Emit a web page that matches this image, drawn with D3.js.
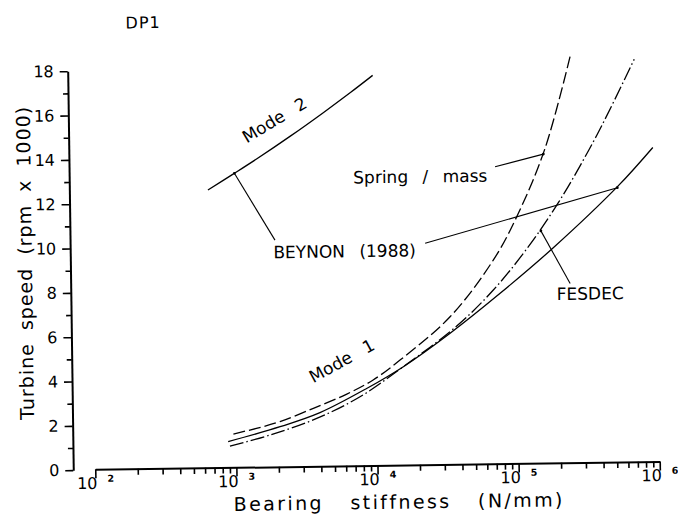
<!DOCTYPE html>
<html>
<head>
<meta charset="utf-8">
<script src="https://cdn.jsdelivr.net/npm/d3@7"></script>
<style>
  html, body { margin: 0; padding: 0; background: #fff; }
  svg { display: block; font-family: 'DejaVu Sans', sans-serif; }
</style>
</head>
<body>
<script>
// bearing stiffness (N/mm) vs turbine speed (rpm x 1000)
const mode2K = [670, 1000, 1500, 2600, 4500, 7000, 10100]
const mode2V = [12.55, 13.23, 13.93, 14.93, 15.98, 16.86, 17.62]

const springK = [960, 1400, 2060, 3560, 6160, 9500, 14800, 33800, 69300, 102600, 165000, 254000]
const springV = [1.53, 1.77, 2.06, 2.64, 3.26, 3.88, 4.76, 6.68, 9.21, 11.15, 14.2, 18.34]

const beynonK = [880, 2060, 3960, 8530, 15600, 33700, 76900, 185000, 543000, 960000]
const beynonV = [1.19, 1.83, 2.44, 3.5, 4.46, 5.94, 7.71, 9.73, 12.49, 14.19]

const fesdecK = [905, 1746, 3750, 7640, 15600, 37600, 68900, 116700, 203000, 386000, 723000]
const fesdecV = [0.99, 1.46, 2.18, 3.13, 4.46, 6.26, 7.86, 9.6, 11.76, 14.78, 18.18]

const yTicks = d3.range(0, 19)
const decades = [2, 3, 4, 5, 6]

// callout leaders, curve end first: [k1, v1, k2, v2]
const leaders = [
  [1035, 13.29, 1977, 10.25],
  [533000, 12.4, 22900, 10.01],
  [160700, 13.96, 72900, 13.42],
  [151700, 10.5, 241600, 8.11]
]
// labels: text, k, v, angle
const labels = [
  ['Mode 2', 1275, 14.63, -30],
  ['Mode 1', 3570, 3.77, -28],
  ['Spring / mass', 7190, 12.76, 0],
  ['BEYNON (1988)', 1919, 9.43, 0],
  ['FESDEC', 193600, 7.37, 0]
]

const width = 678
const height = 517

const svg = d3.select('body').append('svg')
  .attr('width', width)
  .attr('height', height)

// the scan is tilted slightly
const g = svg.append('g')
  .attr('transform', 'rotate(-0.8, 370, 270)')

const x = d3.scaleLog().domain([1e2, 1e6]).range([92.5, 657])
const y = d3.scaleLinear().domain([0, 18]).range([466, 67])

// y axis
const yAxis = g.append('g')
  .attr('transform', 'translate(70.5,0)')
  .call(d3.axisLeft(y)
    .tickValues(yTicks)
    .tickSizeOuter(0)
    .tickFormat(d => d % 2 === 0 ? d : ''))
yAxis.select('.domain').attr('stroke-width', 2)
yAxis.selectAll('.tick line')
  .attr('stroke-width', 1.6)
  .attr('x2', d => d % 2 === 0 ? -8 : -5)
yAxis.selectAll('.tick text')
  .attr('x', -14)
  .attr('font-size', 16)
  .attr('font-family', 'DejaVu Sans')
  .attr('fill', '#000')

// x axis
const xTicks = []
decades.forEach(p => {
  for (let m = 1; m <= 9; m++) {
    if (p === 6 && m > 1) break
    xTicks.push(m * Math.pow(10, p))
  }
})
const xAxis = g.append('g')
  .attr('transform', 'translate(0,465.5)')
  .call(d3.axisBottom(x)
    .tickValues(xTicks)
    .tickSizeOuter(0)
    .tickFormat(''))
xAxis.select('.domain').attr('stroke-width', 2)
xAxis.selectAll('.tick line')
  .attr('stroke-width', 1.6)
  .attr('y2', d => Math.abs(Math.log10(d) % 1) < 1e-9 ? 9 : 6)

const decLabels = g.append('g').selectAll('g')
  .data(decades)
  .join('g')
  .attr('transform', d => `translate(${x(Math.pow(10, d))},0)`)
decLabels.append('text')
  .attr('x', 2)
  .attr('y', 485)
  .attr('text-anchor', 'end')
  .attr('font-size', 16)
  .text('10')
decLabels.append('text')
  .attr('x', 12)
  .attr('y', 478)
  .attr('font-size', 9.5)
  .attr('font-weight', 'bold')
  .text(d => d)

// axis titles
g.append('text')
  .attr('transform', 'translate(32,258) rotate(-90)')
  .attr('text-anchor', 'middle')
  .attr('font-size', 19)
  .attr('letter-spacing', 1)
  .attr('word-spacing', 6)
  .text('Turbine speed (rpm x 1000)')

g.append('text')
  .attr('x', 396)
  .attr('y', 509)
  .attr('text-anchor', 'middle')
  .attr('font-size', 19)
  .attr('letter-spacing', 2.4)
  .attr('word-spacing', 18)
  .text('Bearing stiffness (N/mm)')

g.append('text')
  .attr('x', 129)
  .attr('y', 25)
  .attr('font-size', 16)
  .attr('letter-spacing', 1)
  .text('DP1')

// curves
const line = d3.line()
  .x(d => x(d[0]))
  .y(d => y(d[1]))
  .curve(d3.curveCatmullRom.alpha(0.5))

const series = [
  { k: mode2K, v: mode2V, dash: null },
  { k: springK, v: springV, dash: '12,4' },
  { k: beynonK, v: beynonV, dash: null },
  { k: fesdecK, v: fesdecV, dash: '14,3,1.5,3' }
]

g.append('g').selectAll('path')
  .data(series)
  .join('path')
  .attr('d', s => line(s.k.map((k, i) => [k, s.v[i]])))
  .attr('fill', 'none')
  .attr('stroke', '#000')
  .attr('stroke-width', 1.3)
  .attr('stroke-dasharray', s => s.dash)

// leaders
g.append('g').selectAll('line')
  .data(leaders)
  .join('line')
  .attr('x1', d => x(d[0]))
  .attr('y1', d => y(d[1]))
  .attr('x2', d => x(d[2]))
  .attr('y2', d => y(d[3]))
  .attr('stroke', '#000')
  .attr('stroke-width', 1.1)

g.append('g').selectAll('circle')
  .data(leaders)
  .join('circle')
  .attr('cx', d => x(d[0]))
  .attr('cy', d => y(d[1]))
  .attr('r', 1.4)
  .attr('fill', '#000')

// labels
g.append('g').selectAll('text')
  .data(labels)
  .join('text')
  .attr('transform', d => `translate(${x(d[1])},${y(d[2])}) rotate(${d[3]})`)
  .attr('font-size', 17)
  .attr('word-spacing', 9)
  .text(d => d[0])
</script>
</body>
</html>
